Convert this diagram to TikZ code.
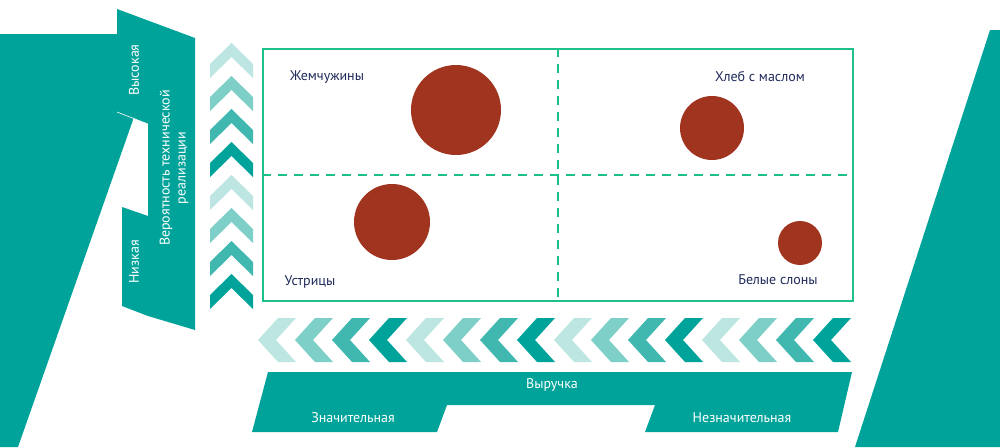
\documentclass[tikz,border=0pt]{standalone}
\usepackage{fontspec}
\setmainfont{PT Sans}
\definecolor{t1}{HTML}{BDE6E3}
\definecolor{t2}{HTML}{7FCFC9}
\definecolor{t3}{HTML}{40B8B0}
\definecolor{t4}{HTML}{00A39A}
\definecolor{bx}{HTML}{1DBF8A}
\definecolor{dot}{HTML}{A0341F}
\definecolor{navy}{HTML}{1F2A5A}
\begin{document}
\begin{tikzpicture}[x=1pt,y=-1pt,
  lbl/.style={font=\fontsize{14}{16}\selectfont,text=navy},
  wlbl/.style={font=\fontsize{14}{16}\selectfont,text=white},
  blob/.style={fill=dot}]
\useasboundingbox (0,0) rectangle (1000,447);
% left big shape
\fill[t4] (0,34) -- (120,34) -- (133,120) -- (18,447) -- (0,447) -- cycle;
% left label shape
\fill[t4] (117,9) -- (195,38) -- (195,330) -- (148,316) -- (122,306) -- (122,207) -- (148,216) -- (148,124) -- (117,112) -- cycle;
\draw[white,line width=0.6pt] (117,112) -- (148,124);
% right shape
\fill[t4] (990,30) -- (1000,30) -- (1000,447) -- (855,447) -- cycle;
% vertical chevrons
\foreach \i/\c in {0/t1,1/t2,2/t3,3/t4,4/t1,5/t2,6/t3,7/t4}{
  \fill[\c] (231.5,43+33*\i) -- (253,64+33*\i) -- (253,78+33*\i) -- (231.5,57+33*\i) -- (210,78+33*\i) -- (210,64+33*\i) -- cycle;
}
% horizontal chevrons
\foreach \i in {0,...,15}{
  \pgfmathtruncatemacro{\k}{mod(\i,4)}
  \ifcase\k \def\cc{t1}\or\def\cc{t2}\or\def\cc{t3}\or\def\cc{t4}\fi
  \fill[\cc] (258+37*\i,340) -- (278+37*\i,318) -- (296+37*\i,318) -- (276+37*\i,340) -- (296+37*\i,362) -- (278+37*\i,362) -- cycle;
}
% bottom band
\fill[t4] (268,372) -- (852,372) -- (838,432) -- (645,432) -- (655,405) -- (447,405) -- (437,432) -- (252,432) -- cycle;
% box
\node[draw=bx,line width=2pt,minimum width=590pt,minimum height=252pt,anchor=north west,inner sep=0pt] (box) at (262,48) {};
\draw[bx,line width=2pt,dash pattern=on 9pt off 7pt] (box.north) -- (box.south);
\draw[bx,line width=2pt,dash pattern=on 9pt off 7pt] (box.west) -- (box.east);
% blobs
\node[blob,circle,minimum size=90pt,inner sep=0pt] (c1) at (456,110) {};
\node[blob,circle,minimum size=64pt,inner sep=0pt] (c2) at (712,128) {};
\node[blob,circle,minimum size=76pt,inner sep=0pt] (c3) at (392,222) {};
\node[blob,circle,minimum size=44pt,inner sep=0pt] (c4) at (800,243) {};
% labels
\node[lbl] (l1) at (327,77) {Жемчужины};
\node[lbl] (l2) at (760,77) {Хлеб с маслом};
\node[lbl] (l3) at (310,282) {Устрицы};
\node[lbl] (l4) at (778,280) {Белые слоны};
\node[wlbl,rotate=90] (v1) at (134,70) {Высокая};
\node[wlbl,rotate=90] (v2) at (134,262) {Низкая};
\node[wlbl,rotate=90,align=center] (v3) at (174,168) {Вероятность технической\\реализации};
\node[wlbl] (h1) at (552,385) {Выручка};
\node[wlbl] (h2) at (353,418) {Значительная};
\node[wlbl] (h3) at (742,418) {Незначительная};
\end{tikzpicture}
\end{document}
